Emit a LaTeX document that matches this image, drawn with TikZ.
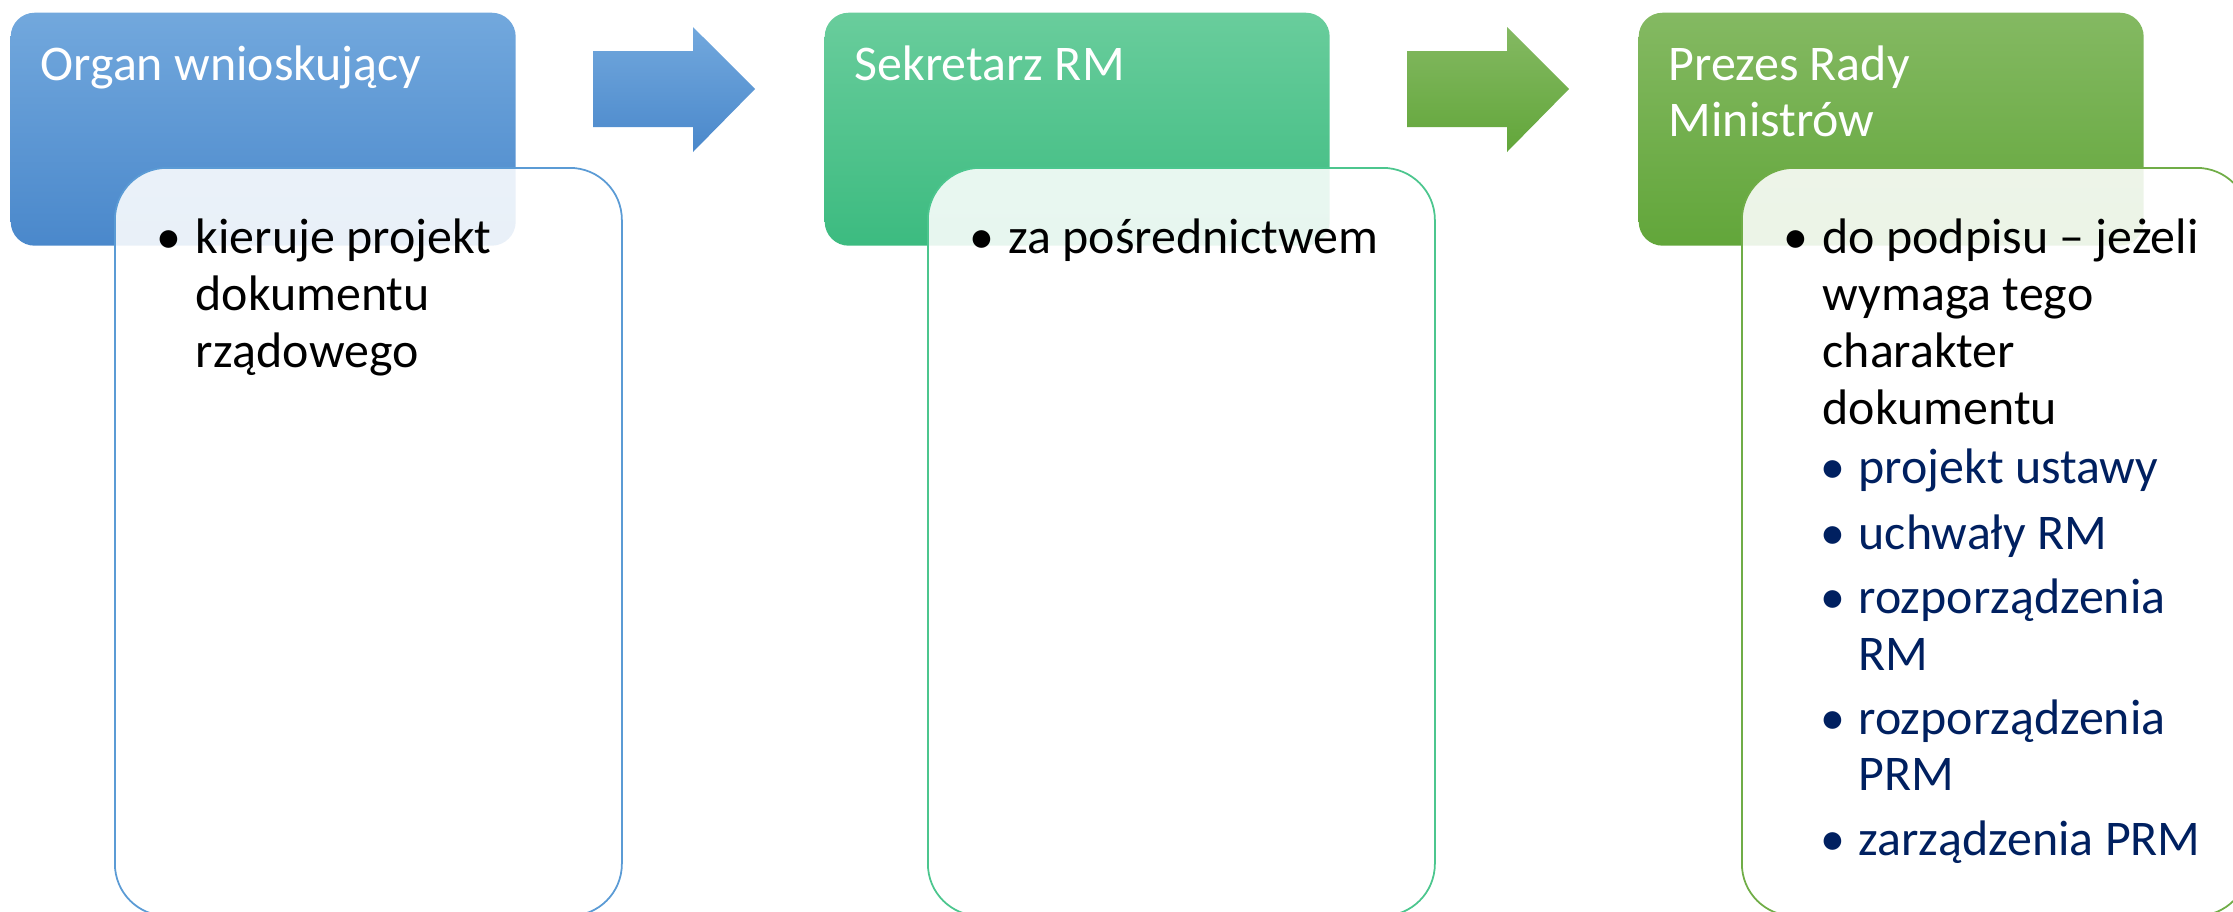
\documentclass[tikz,border=0pt]{standalone}
\usepackage{fontspec}
\setmainfont{Carlito}
\usepackage{xcolor}
\usetikzlibrary{calc, positioning}
\definecolor{blueA}{HTML}{72A8DD}
\definecolor{blueB}{HTML}{4A88CB}
\definecolor{blueL}{HTML}{5B9BD5}
\definecolor{mintA}{HTML}{69CD9C}
\definecolor{mintB}{HTML}{3CBB80}
\definecolor{mintL}{HTML}{4CC68E}
\definecolor{leafA}{HTML}{84B962}
\definecolor{leafB}{HTML}{62A63A}
\definecolor{leafL}{HTML}{70AD47}
\definecolor{navy}{HTML}{002060}

\begin{document}
\begin{tikzpicture}[
  every node/.style={font=\fontsize{14.2pt}{16.2pt}\selectfont},
  head/.style={rounded corners=0.24cm, anchor=north west, minimum width=5.05cm,
    minimum height=2.33cm, inner sep=0pt},
  card/.style={rounded corners=0.52cm, anchor=north west, minimum width=5.07cm,
    minimum height=7.48cm, inner sep=0pt, fill=white, fill opacity=0.88, line width=0.5pt},
  title/.style={anchor=base west, inner sep=0pt, text=white},
  dot/.style={anchor=base, inner sep=0pt},
  line/.style={anchor=base west, inner sep=0pt},
  sub/.style={line, text=navy}
]
\useasboundingbox (0,0) rectangle (22.33,-9.12);
% header blocks
\node[head, top color=blueA, bottom color=blueB] (h1) at (0.10,-0.12) {};
\node[head, top color=mintA, bottom color=mintB] (h2) at (8.24,-0.12) {};
\node[head, top color=leafA, bottom color=leafB] (h3) at (16.38,-0.12) {};
% block arrows
\foreach \dx/\ca/\cb in {0/blueA/blueB, 8.14/leafA/leafB}
  \path[top color=\ca, bottom color=\cb, xshift=\dx cm]
    (5.93,-0.51) -- (6.93,-0.51) -- (6.93,-0.27) -- (7.55,-0.89)
    -- (6.93,-1.52) -- (6.93,-1.27) -- (5.93,-1.27) -- cycle;
% cards
\node[card, draw=blueL] (c1) at (1.14,-1.67) {};
\node[card, draw=mintL] (c2) at (9.27,-1.67) {};
\node[card, draw=leafL] (c3) at (17.41,-1.67) {};
% titles
\node[title] (t1) at (0.40,-0.80) {Organ wnioskujący};
\node[title] (t2) at (8.54,-0.80) {Sekretarz RM};
\node[title] (t3) at (16.68,-0.80) {Prezes Rady};
\node[title] (t3b) at (16.68,-1.36) {Ministrów};
% card 1
\node[dot] (d1) at (1.69,-2.53) {•};
\foreach \t [count=\k] in {kieruje projekt, dokumentu, rządowego}
  \node[line] (k\k) at (1.95,{-2.53-0.57*(\k-1)}) {\t};
% card 2
\node[dot] (d2) at (9.82,-2.53) {•};
\node[line] (z1) at (10.08,-2.53) {za pośrednictwem};
% card 3
\node[dot] (d3) at (17.96,-2.53) {•};
\foreach \t [count=\k] in {do podpisu – jeżeli, wymaga tego, charakter, dokumentu}
  \node[line] (p\k) at (18.22,{-2.53-0.57*(\k-1)}) {\t};
\foreach \y [count=\k] in {4.83, 5.49, 6.13, 7.34, 8.55}
  \node[dot, text=navy] (s\k) at (18.33,-\y) {•};
\foreach \y/\t [count=\k] in {4.83/projekt ustawy, 5.49/uchwały RM, 6.13/rozporządzenia,
    6.70/RM, 7.34/rozporządzenia, 7.90/PRM, 8.55/zarządzenia PRM}
  \node[sub] (r\k) at (18.58,-\y) {\t};
\end{tikzpicture}
\end{document}
